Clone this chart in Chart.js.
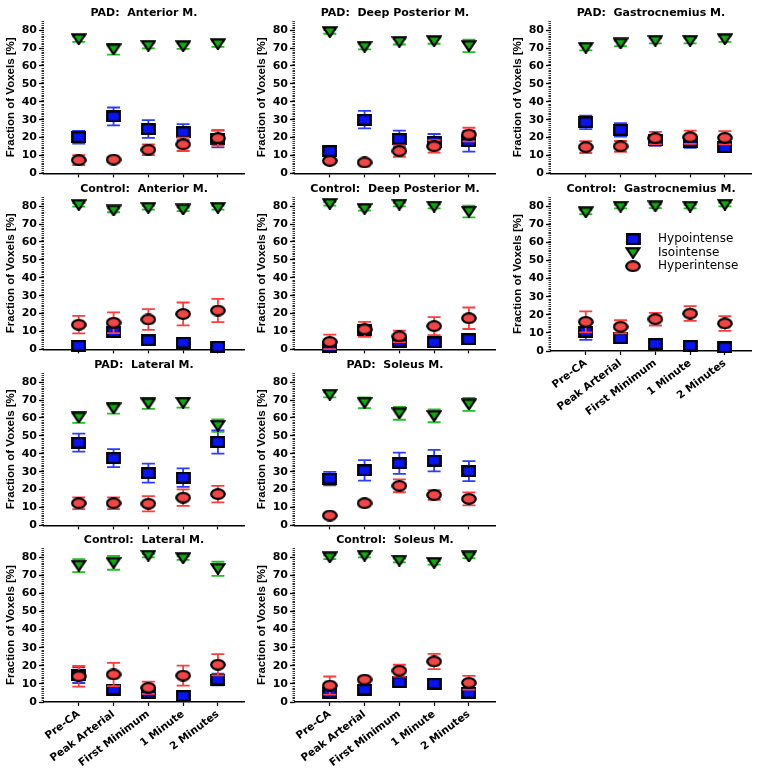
<!DOCTYPE html>
<html>
<head>
<meta charset="utf-8">
<script src="https://cdn.jsdelivr.net/npm/chart.js@4.4.1/dist/chart.umd.min.js"></script>
<style>
  body { margin: 0; background: #fff; }
  #wrap { position: relative; width: 764px; height: 772px; overflow: hidden; }
  .panel { position: absolute; }
</style>
</head>
<body>
<div id="wrap"></div>
<script>
// categories and legend names
var categories = ['Pre-CA', 'Peak Arterial', 'First Minimum', '1 Minute', '2 Minutes'];
var seriesNames = ['Hypointense', 'Isointense', 'Hyperintense'];
var yTickValues = [0, 10, 20, 30, 40, 50, 60, 70, 80];
var yMax = 85;

// PAD: Anterior M.
var padAnteriorHypo = [20.2, 31.8, 24.8, 23.0, 19.3];
var padAnteriorHypoErr = [3.5, 5.0, 5.0, 4.5, 4.8];
var padAnteriorIso = [75.0, 69.3, 71.3, 71.1, 72.2];
var padAnteriorIsoErr = [1.5, 3.0, 1.5, 1.5, 1.5];
var padAnteriorHyper = [7.4, 7.7, 13.2, 16.2, 19.7];
var padAnteriorHyperErr = [2.8, 1.2, 3.0, 3.7, 4.2];

// PAD: Deep Posterior M.
var padDeepHypo = [12.5, 30.0, 19.3, 17.8, 18.0];
var padDeepHypoErr = [2.5, 4.9, 4.6, 4.2, 5.8];
var padDeepIso = [79.0, 70.8, 73.5, 73.9, 71.2];
var padDeepIsoErr = [1.0, 1.5, 1.5, 1.5, 3.5];
var padDeepHyper = [7.0, 6.1, 12.5, 15.1, 21.7];
var padDeepHyperErr = [1.2, 1.0, 3.2, 3.5, 3.8];

// PAD: Gastrocnemius M.
var padGastroHypo = [28.5, 24.3, 18.4, 17.5, 14.5];
var padGastroHypoErr = [3.8, 3.8, 3.0, 3.3, 2.6];
var padGastroIso = [70.2, 72.6, 74.1, 74.1, 75.0];
var padGastroIsoErr = [1.5, 1.5, 1.5, 1.5, 1.5];
var padGastroHyper = [14.7, 15.1, 19.7, 20.2, 19.9];
var padGastroHyperErr = [3.3, 3.0, 3.5, 3.7, 3.7];

// Control: Anterior M.
var ctlAnteriorHypo = [2.0, 9.7, 5.1, 3.8, 1.5];
var ctlAnteriorHypoErr = [1.0, 2.0, 1.2, 1.2, 0.8];
var ctlAnteriorIso = [80.7, 77.6, 79.1, 78.2, 79.1];
var ctlAnteriorIsoErr = [1.0, 1.0, 1.0, 1.0, 1.0];
var ctlAnteriorHyper = [13.8, 14.9, 16.7, 19.8, 21.7];
var ctlAnteriorHyperErr = [4.9, 5.8, 5.8, 6.4, 6.5];

// Control: Deep Posterior M.
var ctlDeepHypo = [1.5, 10.6, 4.2, 3.9, 5.7];
var ctlDeepHypoErr = [1.0, 2.0, 1.2, 1.0, 1.2];
var ctlDeepIso = [81.3, 78.5, 80.9, 79.8, 77.0];
var ctlDeepIsoErr = [1.0, 1.0, 1.0, 1.0, 3.3];
var ctlDeepHyper = [4.2, 11.2, 7.3, 13.0, 17.4];
var ctlDeepHyperErr = [4.0, 4.2, 3.2, 5.0, 6.0];

// Control: Gastrocnemius M.
var ctlGastroHypo = [10.6, 7.0, 3.9, 2.9, 2.0];
var ctlGastroHypoErr = [4.5, 2.0, 1.0, 0.8, 0.8];
var ctlGastroIso = [76.7, 79.8, 80.0, 79.8, 80.9];
var ctlGastroIsoErr = [1.0, 1.0, 1.0, 1.0, 1.0];
var ctlGastroHyper = [16.1, 13.4, 17.6, 20.7, 15.2];
var ctlGastroHyperErr = [5.8, 3.6, 3.5, 4.1, 4.1];

// PAD: Lateral M.
var padLateralHypo = [46.2, 37.6, 29.2, 26.7, 46.6];
var padLateralHypoErr = [5.0, 5.0, 5.3, 5.2, 6.5];
var padLateralIso = [60.3, 65.4, 68.1, 68.5, 55.7];
var padLateralIsoErr = [3.0, 3.0, 3.0, 2.7, 3.5];
var padLateralHyper = [12.4, 12.4, 12.1, 15.5, 17.5];
var padLateralHyperErr = [3.3, 3.3, 4.3, 4.6, 4.6];

// PAD: Soleus M.
var padSoleusHypo = [26.1, 30.7, 34.7, 36.2, 30.3];
var padSoleusHypoErr = [3.8, 5.7, 5.9, 6.0, 5.6];
var padSoleusIso = [73.0, 68.5, 62.6, 61.2, 67.6];
var padSoleusIsoErr = [1.5, 3.0, 3.6, 3.6, 3.6];
var padSoleusHyper = [5.5, 12.4, 22.1, 17.0, 14.8];
var padSoleusHyperErr = [1.0, 1.2, 3.6, 2.7, 3.6];

// Control: Lateral M.
var ctlLateralHypo = [14.8, 6.9, 5.1, 3.3, 12.4];
var ctlLateralHypoErr = [4.3, 2.5, 1.5, 1.0, 3.2];
var ctlLateralIso = [75.4, 76.9, 80.9, 79.5, 73.6];
var ctlLateralIsoErr = [3.6, 3.8, 1.0, 1.0, 3.9];
var ctlLateralHyper = [14.2, 15.2, 7.9, 14.6, 20.6];
var ctlLateralHyperErr = [5.7, 6.4, 3.4, 5.5, 5.9];

// Control: Soleus M.
var ctlSoleusHypo = [5.1, 6.9, 11.0, 10.2, 5.1];
var ctlSoleusHypoErr = [2.5, 2.0, 2.5, 1.5, 2.0];
var ctlSoleusIso = [80.0, 80.9, 78.2, 76.9, 80.5];
var ctlSoleusIsoErr = [1.0, 1.0, 1.0, 1.0, 1.0];
var ctlSoleusHyper = [9.1, 12.4, 17.3, 22.4, 10.6];
var ctlSoleusHyperErr = [5.0, 1.5, 3.3, 4.2, 3.8];

var panels = [
  { title: 'PAD:  Anterior M.', col: 0, row: 0, hypo: [padAnteriorHypo, padAnteriorHypoErr], iso: [padAnteriorIso, padAnteriorIsoErr], hyper: [padAnteriorHyper, padAnteriorHyperErr] },
  { title: 'PAD:  Deep Posterior M.', col: 1, row: 0, hypo: [padDeepHypo, padDeepHypoErr], iso: [padDeepIso, padDeepIsoErr], hyper: [padDeepHyper, padDeepHyperErr] },
  { title: 'PAD:  Gastrocnemius M.', col: 2, row: 0, hypo: [padGastroHypo, padGastroHypoErr], iso: [padGastroIso, padGastroIsoErr], hyper: [padGastroHyper, padGastroHyperErr] },
  { title: 'Control:  Anterior M.', col: 0, row: 1, hypo: [ctlAnteriorHypo, ctlAnteriorHypoErr], iso: [ctlAnteriorIso, ctlAnteriorIsoErr], hyper: [ctlAnteriorHyper, ctlAnteriorHyperErr] },
  { title: 'Control:  Deep Posterior M.', col: 1, row: 1, hypo: [ctlDeepHypo, ctlDeepHypoErr], iso: [ctlDeepIso, ctlDeepIsoErr], hyper: [ctlDeepHyper, ctlDeepHyperErr] },
  { title: 'Control:  Gastrocnemius M.', col: 2, row: 1, labels: true, legend: true, hypo: [ctlGastroHypo, ctlGastroHypoErr], iso: [ctlGastroIso, ctlGastroIsoErr], hyper: [ctlGastroHyper, ctlGastroHyperErr] },
  { title: 'PAD:  Lateral M.', col: 0, row: 2, hypo: [padLateralHypo, padLateralHypoErr], iso: [padLateralIso, padLateralIsoErr], hyper: [padLateralHyper, padLateralHyperErr] },
  { title: 'PAD:  Soleus M.', col: 1, row: 2, hypo: [padSoleusHypo, padSoleusHypoErr], iso: [padSoleusIso, padSoleusIsoErr], hyper: [padSoleusHyper, padSoleusHyperErr] },
  { title: 'Control:  Lateral M.', col: 0, row: 3, labels: true, hypo: [ctlLateralHypo, ctlLateralHypoErr], iso: [ctlLateralIso, ctlLateralIsoErr], hyper: [ctlLateralHyper, ctlLateralHyperErr] },
  { title: 'Control:  Soleus M.', col: 1, row: 3, labels: true, hypo: [ctlSoleusHypo, ctlSoleusHypoErr], iso: [ctlSoleusIso, ctlSoleusIsoErr], hyper: [ctlSoleusHyper, ctlSoleusHyperErr] }
];

var colLeft = [0, 251, 507];
var rowTop = [0, 176, 352, 527];
var PANEL_W = 252;
var PLOT_BOTTOM = 175;

Chart.defaults.color = '#000';
Chart.defaults.font.family = '"DejaVu Sans", sans-serif';

// markers are a bit wider than tall, like the original export
function makeMarker(shape, w, h, fill) {
  var c = document.createElement('canvas');
  c.width = w;
  c.height = h;
  var g = c.getContext('2d');
  g.fillStyle = fill;
  g.strokeStyle = '#000';
  g.lineWidth = 2.2;
  g.lineJoin = 'miter';
  g.beginPath();
  if (shape === 'square') {
    g.rect(1.2, 1.2, w - 2.4, h - 2.4);
  } else if (shape === 'triangle') {
    g.moveTo(1.5, 1.3);
    g.lineTo(w - 1.5, 1.3);
    g.lineTo(w / 2, h - 1);
    g.closePath();
  } else {
    g.ellipse(w / 2, h / 2, w / 2 - 1.2, h / 2 - 1.2, 0, 0, Math.PI * 2);
  }
  g.fill();
  g.stroke();
  return c;
}

var markers = [
  makeMarker('square', 15, 12, '#0a14f0'),
  makeMarker('triangle', 16, 12, '#14a814'),
  makeMarker('circle', 16, 12, '#f04646')
];
var errColors = ['#2a3cff', '#22c022', '#ff3c3c'];

var errorBars = {
  id: 'errorBars',
  beforeDatasetDraw: function (chart, args) {
    var ds = chart.data.datasets[args.index];
    if (!ds.errors) return;
    var yScale = chart.scales.y;
    var ctx = chart.ctx;
    ctx.save();
    ctx.strokeStyle = ds.errColor;
    ctx.lineWidth = 1.8;
    args.meta.data.forEach(function (pt, i) {
      var v = ds.data[i].y;
      var e = ds.errors[i];
      var top = yScale.getPixelForValue(v + e);
      var bot = yScale.getPixelForValue(v - e);
      ctx.beginPath();
      ctx.moveTo(pt.x, top);
      ctx.lineTo(pt.x, bot);
      ctx.moveTo(pt.x - 6.5, top);
      ctx.lineTo(pt.x + 6.5, top);
      ctx.moveTo(pt.x - 6.5, bot);
      ctx.lineTo(pt.x + 6.5, bot);
      ctx.stroke();
    });
    ctx.restore();
  }
};

// dotted look of the y axis: a short tick at every unit
var minorTicks = {
  id: 'minorTicks',
  afterDraw: function (chart) {
    var y = chart.scales.y;
    var ctx = chart.ctx;
    var x0 = chart.chartArea.left;
    ctx.save();
    ctx.strokeStyle = '#333';
    ctx.lineWidth = 1;
    for (var v = 1; v <= yMax; v++) {
      if (v % 10 === 0) continue;
      var py = Math.round(y.getPixelForValue(v)) + 0.5;
      ctx.beginPath();
      ctx.moveTo(x0 - 2.5, py);
      ctx.lineTo(x0, py);
      ctx.stroke();
    }
    ctx.restore();
  }
};

var insideLegend = {
  id: 'insideLegend',
  afterDraw: function (chart) {
    if (!chart.options.plugins.insideLegend.show) return;
    var ctx = chart.ctx;
    var area = chart.chartArea;
    var mx = area.left + 82;
    ctx.save();
    ctx.font = '12px "DejaVu Sans"';
    ctx.fillStyle = '#000';
    ctx.textBaseline = 'middle';
    seriesNames.forEach(function (name, i) {
      var my = area.top + 42 + i * 13.5;
      var m = markers[i];
      ctx.drawImage(m, mx - m.width / 2, my - m.height / 2);
      ctx.fillText(name, mx + 25, my);
    });
    ctx.restore();
  }
};

function toPoints(values) {
  return values.map(function (v, i) { return { x: i, y: v }; });
}

function makeDataset(k, pair) {
  return {
    label: seriesNames[k],
    data: toPoints(pair[0]),
    errors: pair[1],
    errColor: errColors[k],
    pointStyle: markers[k],
    pointRadius: 7,
    showLine: false,
    clip: false,
    order: 3 - k
  };
}

var wrap = document.getElementById('wrap');

panels.forEach(function (p) {
  var h = p.labels ? 272 : 182;
  var div = document.createElement('div');
  div.className = 'panel';
  div.style.left = colLeft[p.col] + 'px';
  div.style.top = rowTop[p.row] + 'px';
  var canvas = document.createElement('canvas');
  canvas.width = PANEL_W;
  canvas.height = h;
  div.appendChild(canvas);
  wrap.appendChild(div);

  new Chart(canvas, {
    type: 'scatter',
    data: {
      datasets: [makeDataset(0, p.hypo), makeDataset(1, p.iso), makeDataset(2, p.hyper)]
    },
    options: {
      responsive: false,
      animation: false,
      events: [],
      layout: { padding: { left: 0, right: 7, top: 0, bottom: 0 } },
      plugins: {
        legend: { display: false },
        tooltip: { enabled: false },
        insideLegend: { show: !!p.legend },
        title: {
          display: true,
          text: p.title,
          fullSize: false,
          color: '#000',
          font: { family: '"DejaVu Sans"', weight: 'bold', size: 11 },
          padding: { top: 7, bottom: 1 }
        }
      },
      scales: {
        x: {
          type: 'linear',
          min: -1,
          max: 4.75,
          afterBuildTicks: function (scale) {
            scale.ticks = categories.map(function (c, i) { return { value: i }; });
          },
          afterFit: function (scale) {
            scale.height = h - PLOT_BOTTOM;
          },
          border: { display: true, color: '#000', width: 1.5 },
          grid: { display: true, drawOnChartArea: false, drawTicks: true, tickLength: 4, tickColor: '#000', tickWidth: 1.2 },
          ticks: {
            autoSkip: false,
            minRotation: 37,
            maxRotation: 37,
            padding: 2,
            color: '#000',
            font: { family: '"DejaVu Sans"', weight: 'bold', size: 10.5 },
            callback: function (value) {
              return p.labels ? categories[value] : '';
            }
          }
        },
        y: {
          type: 'linear',
          min: 0,
          max: yMax,
          afterBuildTicks: function (scale) {
            scale.ticks = yTickValues.map(function (v) { return { value: v }; });
          },
          afterFit: function (scale) {
            scale.width = 44;
          },
          border: { display: false },
          grid: { display: true, drawOnChartArea: false, drawTicks: true, tickLength: 5, tickColor: '#000', tickWidth: 1.3 },
          ticks: {
            autoSkip: false,
            padding: 2,
            color: '#000',
            font: { family: '"DejaVu Sans"', weight: 'bold', size: 11 }
          },
          title: {
            display: true,
            text: 'Fraction of Voxels [%]',
            color: '#000',
            font: { family: '"Liberation Sans"', weight: 'bold', size: 11.5 },
            padding: { top: 4, bottom: 0 }
          }
        }
      }
    },
    plugins: [errorBars, minorTicks, insideLegend]
  });
});
</script>
</body>
</html>
